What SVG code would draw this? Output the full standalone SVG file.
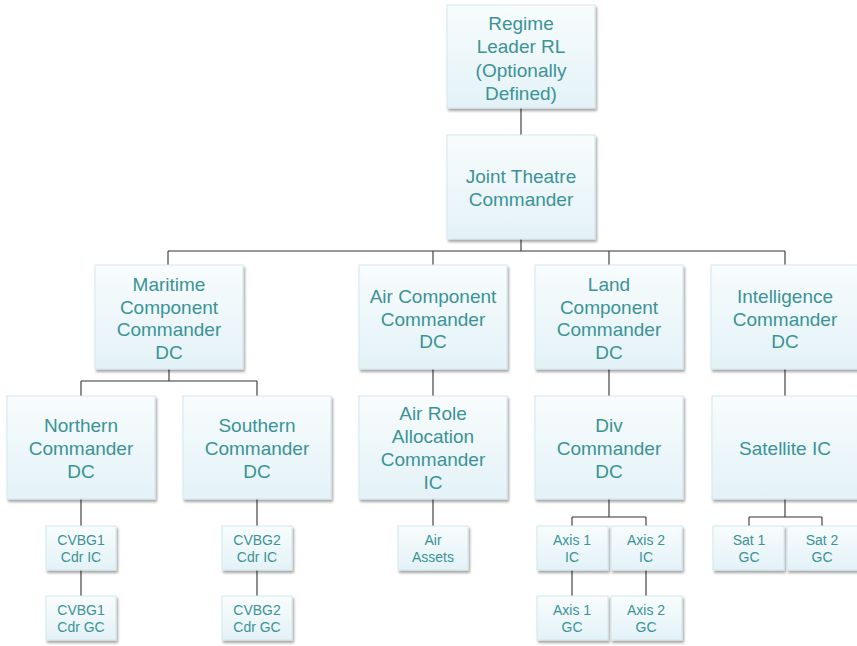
<svg xmlns="http://www.w3.org/2000/svg" width="857" height="646" viewBox="0 0 857 646">
<defs>
<linearGradient id="g" x1="0" y1="0" x2="0" y2="1">
<stop offset="0" stop-color="#f8fcfd"/>
<stop offset="1" stop-color="#e3f2f7"/>
</linearGradient>
<filter id="sh" x="-10%" y="-10%" width="130%" height="130%">
<feDropShadow dx="1.5" dy="2.5" stdDeviation="1.2" flood-color="#000" flood-opacity="0.35"/>
</filter>
</defs>
<style>
rect{fill:url(#g);stroke:#d3e8ee;stroke-width:1;filter:url(#sh)}
text{font-family:"Liberation Sans",Arial,sans-serif;fill:#3b9396;text-anchor:middle}
.b{font-size:19px}
.s{font-size:14px}
#connectors path{stroke:#333;stroke-width:1.1;fill:none}
</style>
<g id="connectors">
<path d="M521 108V135M521 239V251M168 251H785M168 251V265M433 251V265M609 251V265M785 251V265"/>
<path d="M169 369V381M81 381H257M81 381V396M257 381V396"/>
<path d="M433 369V396M609 369V396M785 369V396"/>
<path d="M81 499V526M81 570V596M257 499V526M257 570V596M433 499V526"/>
<path d="M609 499V517M572 517H646M572 517V526M646 517V526M572 570V596M646 570V596"/>
<path d="M785 499V517M749 517H822M749 517V526M822 517V526"/>
</g>
<g id="n-rl"><rect x="447" y="5" width="148" height="103"/>
<text class="b" x="521" y="30">Regime</text><text class="b" x="521" y="53">Leader RL</text><text class="b" x="521" y="77">(Optionally</text><text class="b" x="521" y="100">Defined)</text></g>
<g id="n-jtc"><rect x="447" y="135" width="148" height="104"/>
<text class="b" x="521" y="183">Joint Theatre</text><text class="b" x="521" y="206">Commander</text></g>
<g id="n-mcc"><rect x="95" y="265" width="148" height="104"/>
<text class="b" x="169" y="291">Maritime</text><text class="b" x="169" y="314">Component</text><text class="b" x="169" y="336">Commander</text><text class="b" x="169" y="359">DC</text></g>
<g id="n-acc"><rect x="359" y="265" width="148" height="104"/>
<text class="b" x="433" y="303">Air Component</text><text class="b" x="433" y="326">Commander</text><text class="b" x="433" y="348">DC</text></g>
<g id="n-lcc"><rect x="535" y="265" width="148" height="104"/>
<text class="b" x="609" y="291">Land</text><text class="b" x="609" y="314">Component</text><text class="b" x="609" y="336">Commander</text><text class="b" x="609" y="359">DC</text></g>
<g id="n-ic"><rect x="711" y="265" width="148" height="104"/>
<text class="b" x="785" y="303">Intelligence</text><text class="b" x="785" y="326">Commander</text><text class="b" x="785" y="348">DC</text></g>
<g id="n-north"><rect x="7" y="396" width="148" height="103"/>
<text class="b" x="81" y="432">Northern</text><text class="b" x="81" y="455">Commander</text><text class="b" x="81" y="478">DC</text></g>
<g id="n-south"><rect x="183" y="396" width="148" height="103"/>
<text class="b" x="257" y="432">Southern</text><text class="b" x="257" y="455">Commander</text><text class="b" x="257" y="478">DC</text></g>
<g id="n-arac"><rect x="359" y="396" width="148" height="103"/>
<text class="b" x="433" y="420">Air Role</text><text class="b" x="433" y="443">Allocation</text><text class="b" x="433" y="466">Commander</text><text class="b" x="433" y="489">IC</text></g>
<g id="n-div"><rect x="535" y="396" width="148" height="103"/>
<text class="b" x="609" y="432">Div</text><text class="b" x="609" y="455">Commander</text><text class="b" x="609" y="478">DC</text></g>
<g id="n-sat"><rect x="712" y="396" width="148" height="103"/>
<text class="b" x="785" y="455">Satellite IC</text></g>
<g id="n-cvbg1ic"><rect x="46" y="526" width="70" height="44"/>
<text class="s" x="81" y="545">CVBG1</text><text class="s" x="81" y="562">Cdr IC</text></g>
<g id="n-cvbg1gc"><rect x="46" y="596" width="70" height="44"/>
<text class="s" x="81" y="615">CVBG1</text><text class="s" x="81" y="632">Cdr GC</text></g>
<g id="n-cvbg2ic"><rect x="222" y="526" width="70" height="44"/>
<text class="s" x="257" y="545">CVBG2</text><text class="s" x="257" y="562">Cdr IC</text></g>
<g id="n-cvbg2gc"><rect x="222" y="596" width="70" height="44"/>
<text class="s" x="257" y="615">CVBG2</text><text class="s" x="257" y="632">Cdr GC</text></g>
<g id="n-air"><rect x="398" y="526" width="70" height="44"/>
<text class="s" x="433" y="545">Air</text><text class="s" x="433" y="562">Assets</text></g>
<g id="n-ax1ic"><rect x="537" y="526" width="71" height="44"/>
<text class="s" x="572" y="545">Axis 1</text><text class="s" x="572" y="562">IC</text></g>
<g id="n-ax2ic"><rect x="611" y="526" width="71" height="44"/>
<text class="s" x="646" y="545">Axis 2</text><text class="s" x="646" y="562">IC</text></g>
<g id="n-ax1gc"><rect x="537" y="596" width="71" height="44"/>
<text class="s" x="572" y="615">Axis 1</text><text class="s" x="572" y="632">GC</text></g>
<g id="n-ax2gc"><rect x="611" y="596" width="71" height="44"/>
<text class="s" x="646" y="615">Axis 2</text><text class="s" x="646" y="632">GC</text></g>
<g id="n-sat1"><rect x="713" y="526" width="71" height="44"/>
<text class="s" x="749" y="545">Sat 1</text><text class="s" x="749" y="562">GC</text></g>
<g id="n-sat2"><rect x="787" y="526" width="71" height="44"/>
<text class="s" x="822" y="545">Sat 2</text><text class="s" x="822" y="562">GC</text></g>
</svg>
